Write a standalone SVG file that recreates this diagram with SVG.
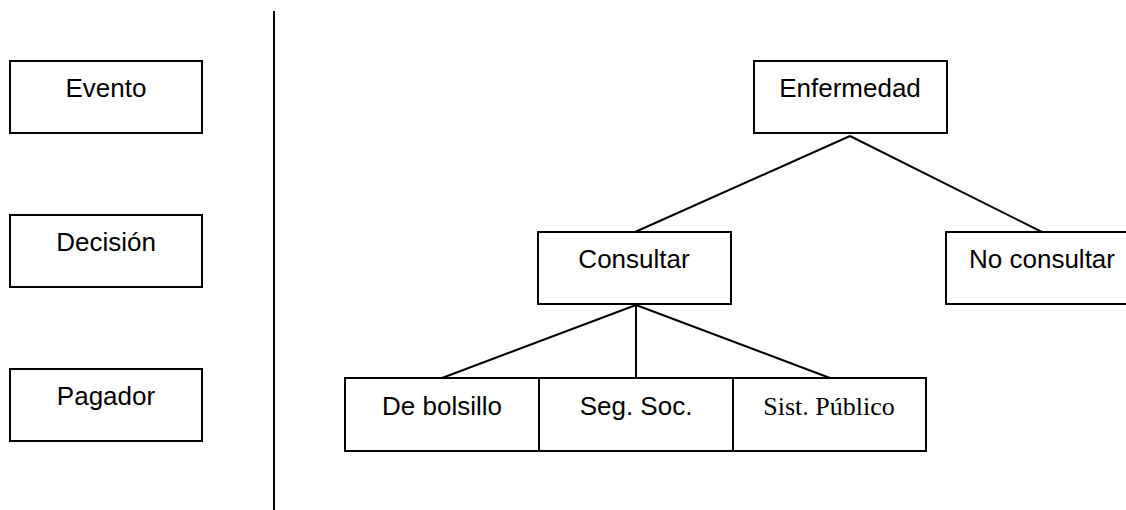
<svg xmlns="http://www.w3.org/2000/svg" width="1126" height="510" viewBox="0 0 1126 510">
<style>
.box{fill:#fff;stroke:#000;stroke-width:2}
.t{font-family:"Liberation Sans",Arial,sans-serif;font-size:26px;text-anchor:middle;fill:#000}
.ts{font-family:"Liberation Serif","Times New Roman",serif;font-size:26px;text-anchor:middle;fill:#000}
.ln{stroke:#000;stroke-width:2;fill:none}
</style>
<rect width="1126" height="510" fill="#fff"/>
<g id="connectors">
<line class="ln" x1="274" y1="11" x2="274" y2="510"/>
<line class="ln" x1="850" y1="136" x2="635" y2="232"/>
<line class="ln" x1="850" y1="136" x2="1042" y2="232"/>
<line class="ln" x1="636" y1="305" x2="442" y2="378"/>
<line class="ln" x1="636" y1="305" x2="636" y2="378"/>
<line class="ln" x1="636" y1="305" x2="830" y2="378"/>
</g>
<g id="evento"><rect class="box" x="10" y="61" width="192" height="72"/><text class="t" x="106" y="97">Evento</text></g>
<g id="decision"><rect class="box" x="10" y="215" width="192" height="72"/><text class="t" x="106" y="251">Decisión</text></g>
<g id="pagador"><rect class="box" x="10" y="369" width="192" height="72"/><text class="t" x="106" y="405">Pagador</text></g>
<g id="enfermedad"><rect class="box" x="754" y="61" width="193" height="72"/><text class="t" x="850" y="97">Enfermedad</text></g>
<g id="consultar"><rect class="box" x="538" y="232" width="193" height="72"/><text class="t" x="634" y="268">Consultar</text></g>
<g id="noconsultar"><rect class="box" x="946" y="232" width="193" height="72"/><text class="t" x="1042" y="268">No consultar</text></g>
<g id="bolsillo"><rect class="box" x="345" y="378" width="194" height="73"/><text class="t" x="442" y="415">De bolsillo</text></g>
<g id="segsoc"><rect class="box" x="539" y="378" width="194" height="73"/><text class="t" x="636" y="415">Seg. Soc.</text></g>
<g id="sistpublico"><rect class="box" x="733" y="378" width="193" height="73"/><text class="ts" x="829" y="415">Sist. Público</text></g>
</svg>
